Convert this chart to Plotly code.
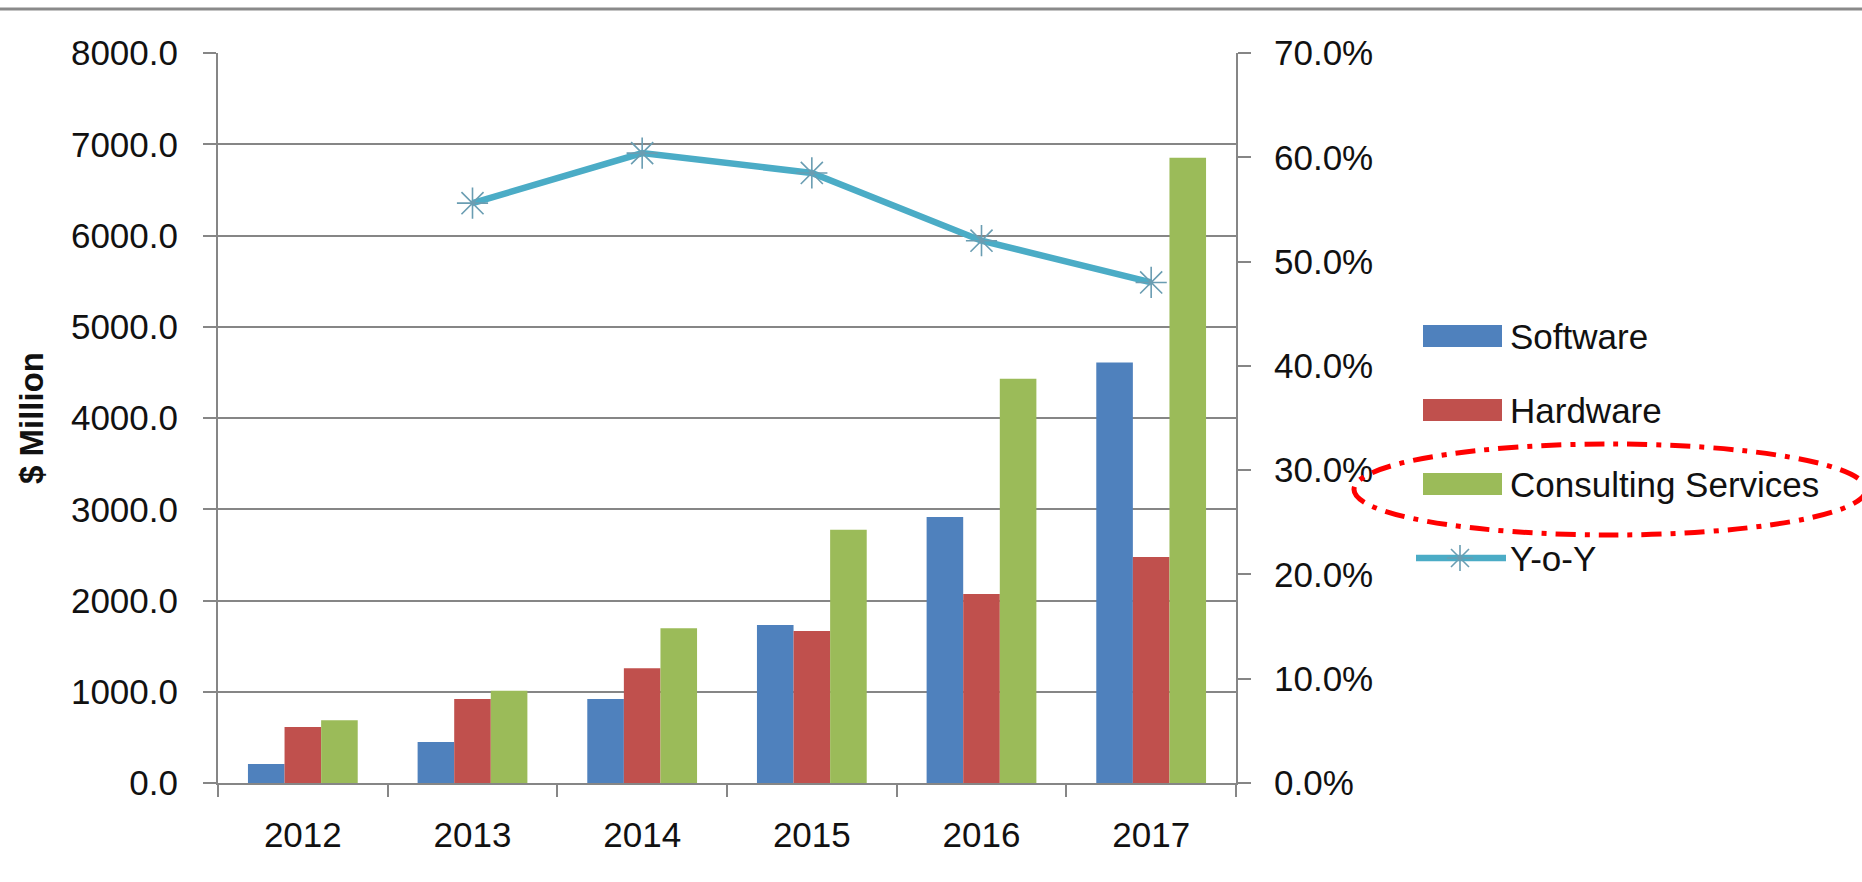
import plotly.graph_objects as go

# ---------------- data ----------------
years = ["2012", "2013", "2014", "2015", "2016", "2017"]
software = [208, 449, 920, 1731, 2916, 4607]
hardware = [614, 920, 1258, 1665, 2071, 2477]
consulting = [687, 1012, 1695, 2774, 4431, 6853]
yoy = [None, 0.556, 0.604, 0.585, 0.520, 0.480]

series_names = ["Software", "Hardware", "Consulting Services", "Y-o-Y"]
bar_colors = ["#4F81BD", "#C0504D", "#9BBB59"]
line_color = "#4BACC6"
marker_color = "#6a9db2"
axis_color = "#868686"
FONT = "Liberation Sans"
TXT = "#111111"

# ---------------- geometry helpers (layout only) ----------------
W_FIG, H_FIG = 1862, 882
L, R, T, B = 218, 626, 53, 99
PW = W_FIG - L - R
PH = H_FIG - T - B


def px(x):
    return (x - L) / PW


def py(y):
    return (H_FIG - B - y) / PH


fig = go.Figure()
for name, vals, col in zip(series_names[:3], [software, hardware, consulting], bar_colors):
    fig.add_trace(go.Bar(x=years, y=vals, name=name, marker=dict(color=col, line=dict(width=0)),
                         yaxis="y"))

fig.add_trace(go.Scatter(
    x=years, y=yoy, name=series_names[3], yaxis="y2", mode="lines+markers",
    line=dict(color=line_color, width=6.5),
    marker=dict(symbol="asterisk-open", size=26, color=marker_color,
                line=dict(color=marker_color, width=1.6)),
    connectgaps=False,
))

tickfont = dict(family=FONT, size=35, color=TXT)

fig.update_layout(
    width=W_FIG, height=H_FIG,
    margin=dict(l=L, r=R, t=T, b=B, pad=0),
    paper_bgcolor="white", plot_bgcolor="white",
    font=dict(family=FONT, color=TXT),
    showlegend=False,
    barmode="group", bargap=0.353, bargroupgap=0,
    xaxis=dict(type="category", tickson="boundaries", ticks="outside", ticklen=12,
               tickwidth=2, tickcolor=axis_color, showline=True, linecolor=axis_color,
               linewidth=2, showgrid=False, tickfont=tickfont, ticklabelstandoff=20),
    yaxis=dict(range=[0, 8000], dtick=1000, tickformat=".1f", ticks="outside", ticklen=13,
               tickwidth=2, tickcolor=axis_color, showline=True, linecolor=axis_color,
               linewidth=2, showgrid=True, gridcolor=axis_color, gridwidth=2,
               zeroline=False, tickfont=tickfont, ticklabelstandoff=18),
    yaxis2=dict(range=[0, 0.7], dtick=0.1, tickformat=".1%", overlaying="y", side="right",
                ticks="outside", ticklen=13, tickwidth=2, tickcolor=axis_color,
                showline=True, linecolor=axis_color, linewidth=2, showgrid=False,
                zeroline=False, tickfont=tickfont, ticklabelstandoff=16),
)

shapes = []
annotations = []

# top border line
shapes.append(dict(type="line", xref="paper", yref="paper", x0=px(0), x1=px(W_FIG),
                   y0=py(9), y1=py(9), line=dict(color="#8a8a8a", width=3)))

# y-axis title
annotations.append(dict(text="<b>$ Million</b>", xref="paper", yref="paper",
                        x=px(31), y=py(418), textangle=-90, showarrow=False,
                        font=dict(family=FONT, size=33, color=TXT),
                        xanchor="center", yanchor="middle"))

# custom legend
legend_y = [336, 410, 484, 558]
for name, col, yc in zip(series_names[:3], bar_colors, legend_y[:3]):
    shapes.append(dict(type="rect", xref="paper", yref="paper", x0=px(1423), x1=px(1502),
                       y0=py(yc + 11), y1=py(yc - 11), fillcolor=col, line=dict(width=0)))
shapes.append(dict(type="line", xref="paper", yref="paper", x0=px(1416), x1=px(1506),
                   y0=py(legend_y[3]), y1=py(legend_y[3]), line=dict(color=line_color, width=6.5)))
shapes.append(dict(type="path", xref="paper", yref="paper", xsizemode="pixel", ysizemode="pixel",
                   xanchor=px(1460), yanchor=py(legend_y[3]),
                   path="M-13,0L13,0M0,-13L0,13M-9,-9L9,9M-9,9L9,-9",
                   line=dict(color=marker_color, width=1.6)))
for name, yc in zip(series_names, legend_y):
    annotations.append(dict(text=name, xref="paper", yref="paper", x=px(1508), y=py(yc),
                            xanchor="left", yanchor="middle", showarrow=False,
                            font=dict(family=FONT, size=35, color=TXT)))

# red dash-dot ellipse highlight
shapes.append(dict(type="circle", xref="paper", yref="paper", x0=px(1354), x1=px(1866),
                   y0=py(535), y1=py(444),
                   line=dict(color="#ff0000", width=5, dash="20px,9px,5px,9px")))

fig.update_layout(shapes=shapes, annotations=annotations)
fig.write_html(
    "out.html",
    config={"displayModeBar": False},
    post_script="document.body.style.margin='0';document.body.style.overflow='hidden';",
)
